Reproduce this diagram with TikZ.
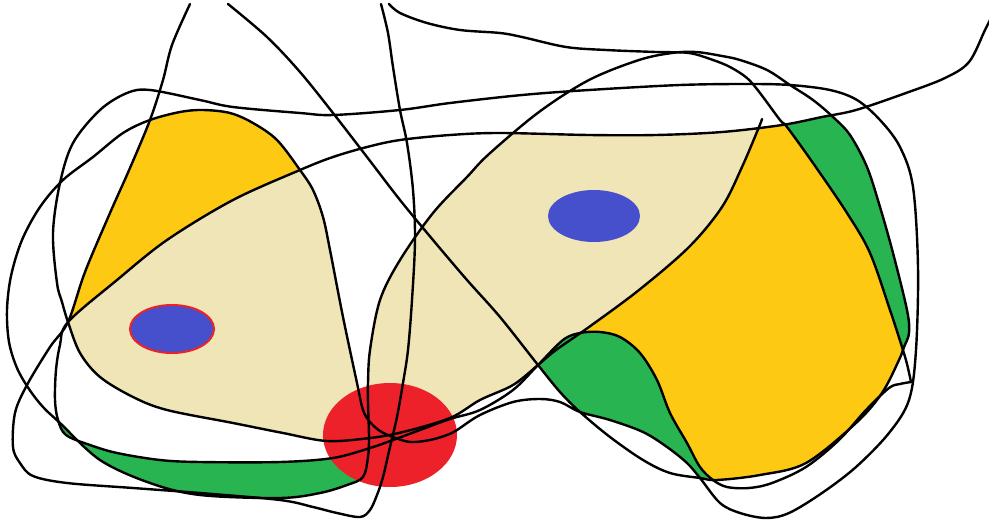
\documentclass[tikz,border=0pt]{standalone}
\usepackage{xcolor}
\usepackage{tikz}

\definecolor{yelfill}{HTML}{FDC913}
\definecolor{tanfill}{HTML}{EFE5B6}
\definecolor{grnfill}{HTML}{28B451}
\definecolor{redfill}{HTML}{ED2129}
\definecolor{blufill}{HTML}{4650CD}

\begin{document}
\begin{tikzpicture}[
  x=1pt, y=-1pt,
  curve/.style={draw=black, line width=2.4pt, line cap=round, line join=round, smooth, tension=0.55},
  region/.style={smooth, tension=0.55}
]
\clip (0,0) rectangle (989,525);

% coloured zones
\fill[tanfill, region] plot coordinates {(68,322) (117,280) (167,240) (233,200) (300,170)}
  -- plot coordinates {(300,170) (313,190) (323,217) (330,250) (343,317) (357,383) (363,410) (370,422) (380,431)}
  -- plot coordinates {(380,437) (327,441) (283,433) (233,423) (167,410) (133,397) (100,377) (80,353) (68,322)} -- cycle;
\fill[tanfill, region] plot coordinates {(369,437) (368,403) (368,383) (370,350) (380,300) (400,260) (433,213) (467,177) (489,154) (518,131)}
  -- plot coordinates {(518,134) (589,135) (656,135) (722,132) (760,127)}
  -- plot coordinates {(760,127) (742,167) (722,207) (689,247) (639,290) (589,327) (556,350) (538,365) (513,385) (480,400) (450,418) (403,432) (370,438)} -- cycle;
\fill[yelfill, region] plot coordinates {(150,120) (130,168) (110,213) (85,272) (68,322)}
  -- plot coordinates {(68,322) (117,280) (167,240) (233,200) (300,170)}
  -- plot coordinates {(300,170) (277,140) (253,123) (230,113) (203,110) (180,112) (150,120)} -- cycle;
\fill[yelfill, region] plot coordinates {(538,365) (556,350) (589,327) (639,290) (689,247) (722,207) (742,167) (759,127)}
  -- (785,125)
  -- plot coordinates {(785,125) (813,163) (847,213) (870,253) (890,310) (903,347)}
  -- plot coordinates {(904,347) (899,360) (882,393) (856,423) (806,463) (760,475) (717,480) (708,478)}
  -- plot coordinates {(708,478) (700,467) (687,443) (670,413) (657,380) (640,353) (620,337) (600,332) (580,333) (563,340) (538,365)} -- cycle;
\fill[grnfill, region] plot coordinates {(783,125) (822,117) (834,116)}
  -- plot coordinates {(834,117) (850,135) (867,167) (880,207) (893,253) (907,310) (909,333) (904,347)}
  -- plot coordinates {(902,347) (890,310) (870,253) (847,213) (813,163) (785,125)} -- cycle;
\fill[grnfill, region] plot coordinates {(538,365) (563,340) (580,333) (600,332) (620,337) (640,353) (657,380) (670,413) (687,443) (700,467) (708,478)}
  -- plot coordinates {(700,478) (687,463) (667,447) (643,432) (610,420) (580,412)}
  -- plot coordinates {(580,412) (560,392) (538,365)} -- cycle;
\fill[grnfill, region] plot coordinates {(58,422) (66,435) (90,445) (117,453) (160,460) (200,462) (280,462) (333,458) (370,448)}
  -- plot coordinates {(369,440) (368,457) (363,477) (347,485) (320,493) (280,498) (200,495) (150,483) (100,460) (60,423)} -- cycle;

\fill[blufill, draw=redfill, line width=2pt] (172,329) ellipse [x radius=42, y radius=24];
\fill[blufill] (594,216) ellipse [x radius=46, y radius=26];
\fill[redfill] (390,435) ellipse [x radius=67, y radius=52];

% curves
\draw[curve] plot coordinates {(190,4) (172,45) (163,80) (150,120) (130,168) (110,213) (85,272) (68,322) (50,347) (27,385) (15,413) (13,447) (20,463) (33,476) (67,483) (133,488) (200,493) (280,500) (313,507) (337,513) (360,517) (370,510) (377,495) (383,477) (390,447) (397,417) (403,383) (408,350) (412,300) (415,240) (413,190) (407,143) (400,110) (393,67) (388,33) (381,4)};

\draw[curve] plot coordinates {(993,14) (985,30) (969,62) (945,78) (906,93) (856,110) (822,117) (782,125) (722,132) (656,135) (589,135) (500,133) (450,135) (400,140) (367,147) (333,157) (300,170) (233,200) (167,240) (117,280) (68,322) (60,345) (56,370) (55,400) (58,420) (66,435) (90,445) (117,453) (160,460) (200,462) (280,462) (333,458) (370,448) (393,440) (420,430) (450,419) (480,410) (513,390) (538,365) (563,340) (580,333) (600,332) (620,337) (640,353) (657,380) (670,413) (687,443) (700,467) (713,480) (727,487) (749,488) (772,483) (806,467) (839,440) (866,410) (889,388) (900,384) (911,382)}
  -- plot coordinates {(911,382) (907,364) (902,347) (890,310) (870,253) (847,213) (813,163) (787,127) (780,120) (760,93) (747,78) (730,67) (713,60) (689,53) (656,52) (606,50) (566,47) (522,37) (500,33) (460,30) (427,23) (400,13) (389,4)};

\draw[curve] plot coordinates {(228,4) (267,37) (300,72) (333,113) (367,157) (400,200) (433,240) (467,280) (500,317) (538,365) (560,392) (580,412) (610,437) (643,460) (670,473) (700,478) (717,480) (760,475) (806,463) (856,423) (882,393) (899,360) (904,347) (909,333) (907,310) (893,253) (880,207) (867,167) (850,135) (833,117) (813,100) (790,85) (767,70) (740,60) (722,56) (696,52) (672,53) (639,60) (589,80) (539,112) (489,154) (467,177) (433,213) (400,260) (380,300) (370,350) (368,383) (368,403) (369,437) (368,457) (363,477) (347,485) (320,493) (280,498) (200,495) (150,483) (100,460) (60,423) (43,407) (29,389) (17,368) (9,342) (7,310) (11,276) (22,240) (40,207) (63,180) (93,157) (123,133) (150,120) (180,112) (203,110) (230,113) (253,123) (277,140) (300,170) (313,190) (323,217) (330,250) (343,317) (357,383) (363,410) (370,422) (380,431) (393,437) (410,442) (430,440) (447,435) (457,430) (480,415) (513,402) (540,399) (560,402) (580,412) (610,420) (643,432) (667,447) (687,463) (700,478) (720,503) (740,513) (766,518) (789,513) (822,493) (856,467) (889,433) (909,400) (916,350) (918,267) (913,187) (900,147) (880,120) (857,100) (830,90) (790,85) (747,84) (680,85) (589,90) (522,95) (450,103) (400,110) (333,115) (300,113) (233,107) (200,100) (150,90) (127,93) (100,110) (73,143) (60,183) (53,233) (57,283) (62,302) (68,322) (80,353) (100,377) (133,397) (167,410) (233,423) (283,433) (327,441) (370,438) (403,432) (450,418) (480,400) (513,385) (538,365) (556,350) (589,327) (639,290) (689,247) (722,207) (742,167) (759,127) (762,119)};
\end{tikzpicture}
\end{document}
